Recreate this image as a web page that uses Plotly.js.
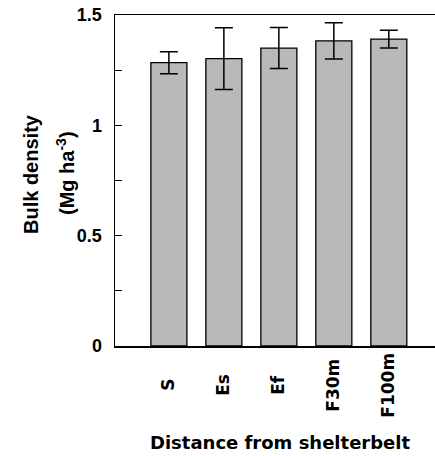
<!DOCTYPE html>
<html>
<head>
<meta charset="utf-8">
<script src="https://cdn.plot.ly/plotly-3.0.1.min.js"></script>
<style>html,body{margin:0;padding:0;background:#fff;}#chart{width:435px;height:456px;}</style>
</head>
<body>
<div id="chart"></div>
<script>
var categories = ["S", "Es", "Ef", "F30m", "F100m"];
var bulkDensity = [1.284, 1.302, 1.350, 1.383, 1.391];
var errorValues = [0.050, 0.140, 0.093, 0.082, 0.040];
var yTickVals = [0, 0.5, 1, 1.5];
var yTickText = ["0", "0.5", "1", "1.5"];
var yMinorTickVals = [0.25, 0.75, 1.25];
var xTitle = "Distance from shelterbelt";
var yTitleLines = ["Bulk density", "(Mg ha<sup>-3</sup>)"];

var idx = categories.map(function (c, i) { return i; });

var trace = {
  type: "bar",
  x: idx,
  y: bulkDensity,
  width: 0.655,
  marker: { color: "#b9b9b9", line: { color: "#000", width: 1.3 } },
  error_y: { type: "data", array: errorValues, visible: true, color: "#000", thickness: 1.5, width: 9 },
  hoverinfo: "none"
};

var plotW = 435 - 115, plotH = 456 - 15 - 110;
var annotations = categories.map(function (c, i) {
  return {
    x: i - 0.02, xref: "x", y: (346 - 385) / plotH, yref: "paper",
    text: "<b>" + c + "</b>", showarrow: false, textangle: -90,
    xanchor: "center", yanchor: "middle",
    font: { family: "DejaVu Sans", size: 17, color: "#000" }
  };
});
annotations.push({
  x: (280 - 115) / plotW, xref: "paper", y: (346 - 443) / plotH, yref: "paper",
  text: "<b>" + xTitle + "</b>", showarrow: false,
  xanchor: "center", yanchor: "middle",
  font: { family: "DejaVu Sans", size: 18, color: "#000" }
});
annotations.push({
  x: (31 - 115) / plotW, xref: "paper", y: (346 - 174) / plotH, yref: "paper",
  text: "<b>" + yTitleLines[0] + "</b>", showarrow: false, textangle: -90,
  xanchor: "center", yanchor: "middle",
  font: { family: "Liberation Sans", size: 20, color: "#000" }
});
annotations.push({
  x: (65 - 115) / plotW, xref: "paper", y: (346 - 173) / plotH, yref: "paper",
  text: "<b>" + yTitleLines[1] + "</b>", showarrow: false, textangle: -90,
  xanchor: "center", yanchor: "middle",
  font: { family: "Liberation Sans", size: 20, color: "#000" }
});

var layout = {
  width: 435, height: 456,
  margin: { l: 115, r: 0, t: 15, b: 110, pad: 0 },
  paper_bgcolor: "#fff", plot_bgcolor: "#fff",
  showlegend: false,
  xaxis: {
    range: [-0.98, 4.84], showgrid: false, zeroline: false,
    showticklabels: false, ticks: "",
    showline: true, linecolor: "#000", linewidth: 1.5, mirror: true
  },
  yaxis: {
    range: [0, 1.5], showgrid: false, zeroline: false,
    tickmode: "array", tickvals: yTickVals, ticktext: yTickText,
    ticks: "inside", ticklen: 7, tickwidth: 1, tickcolor: "#000",
    minor: { tickmode: "array", tickvals: yMinorTickVals, ticks: "inside", ticklen: 7, tickwidth: 1, tickcolor: "#000", showgrid: false },
    ticklabelstandoff: 8,
    tickfont: { family: "Liberation Sans", size: 18, color: "#000", weight: "bold" },
    showline: true, linecolor: "#000", linewidth: 1.5, mirror: false
  },
  annotations: annotations
};

Plotly.newPlot("chart", [trace], layout, { displayModeBar: false, staticPlot: true });
</script>
</body>
</html>
